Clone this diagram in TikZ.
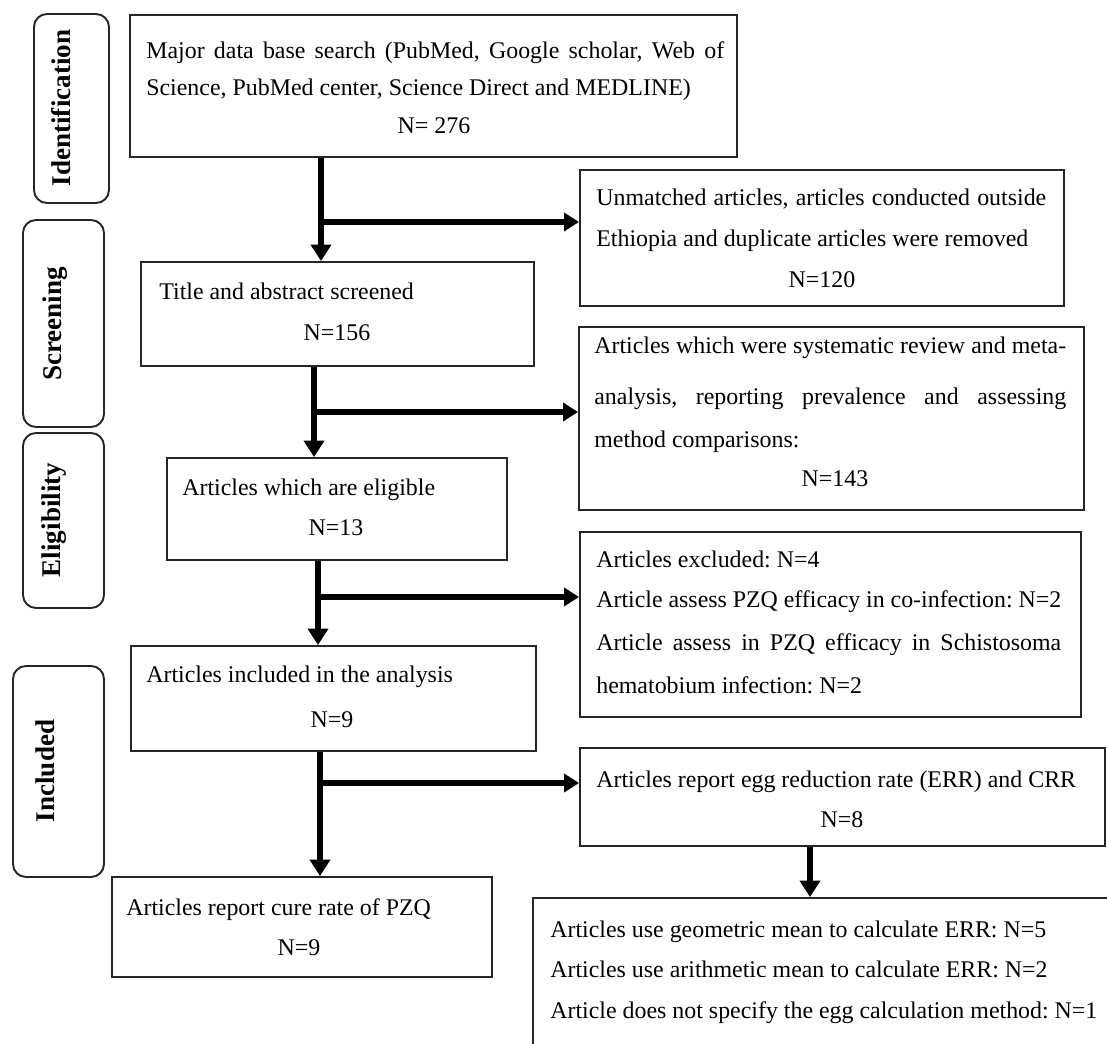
\documentclass[tikz,border=0pt]{standalone}
\usepackage{fontspec}
\setmainfont{Liberation Serif}
\usetikzlibrary{arrows.meta,fit}
\frenchspacing
\begin{document}
\begin{tikzpicture}[x=0.02cm,y=-0.02cm,
  box/.style={draw=black!85, line width=1.1pt, inner sep=0pt},
  lab/.style={draw=black!85, line width=1.1pt, inner sep=0pt, rounded corners=0.26cm},
  txt/.style={anchor=base west, inner sep=0pt, font=\fontsize{13.6}{16}\selectfont},
  ctr/.style={anchor=base, inner sep=0pt, font=\fontsize{13.6}{16}\selectfont},
  side/.style={rotate=90, anchor=base, inner sep=0pt, font=\fontsize{15.4}{18}\selectfont\bfseries},
  arr/.style={line width=3.1pt, -{Triangle[width=0.4cm,length=0.33cm]}},
  harr/.style={line width=2.9pt, -{Triangle[width=0.36cm,length=0.3cm]}}
]
\useasboundingbox (0,0) rectangle (1107,1044);
\clip (0,0) rectangle (1107,1044);

% side labels
\node[lab, fit={(34,14)(109,203)}] (sid) {};
\node[side] (sidt) at (71,108) {Identification};
\node[lab, fit={(23,220)(104,427)}] (scr) {};
\node[side] (scrt) at (61,324) {Screening};
\node[lab, fit={(23,433)(104,608)}] (eli) {};
\node[side] (elit) at (60,520) {Eligibility};
\node[lab, fit={(13,666)(104,877)}] (inc) {};
\node[side] (inct) at (54,771) {Included};

% main boxes
\node[box, fit={(130,15)(737,157)}] (b1) {};
\node[txt] (b1a) at (146,59) {\makebox[11.56cm][s]{Major data base search (PubMed, Google scholar, Web of}};
\node[txt] (b1b) at (146,96) {Science, PubMed center, Science Direct and MEDLINE)};
\node[ctr] (b1c) at (434,134) {N= 276};

\node[box, fit={(580,170)(1064,306)}] (unm) {};
\node[txt] (unma) at (596,206) {\makebox[9.0cm][s]{Unmatched articles, articles conducted outside}};
\node[txt] (unmb) at (596,247) {Ethiopia and duplicate articles were removed};
\node[ctr] (unmc) at (822,288) {N=120};

\node[box, fit={(141,262)(534,366)}] (b2) {};
\node[txt] (b2a) at (159,300) {Title and abstract screened};
\node[ctr] (b2b) at (337,341) {N=156};

\node[box, fit={(579,327)(1084,510)}] (sys) {};
\node[txt] (sysa) at (594,354) {\makebox[9.44cm][s]{Articles which were systematic review and meta-}};
\node[txt] (sysb) at (594,405) {\makebox[9.44cm][s]{analysis, reporting prevalence and assessing}};
\node[txt] (sysc) at (594,448) {method comparisons:};
\node[ctr] (sysd) at (835,487) {N=143};

\node[box, fit={(167,458)(507,560)}] (elig) {};
\node[txt] (eliga) at (182,496) {Articles which are eligible};
\node[ctr] (eligb) at (336,536) {N=13};

\node[box, fit={(580,532)(1081,717)}] (exc) {};
\node[txt] (exca) at (596,568) {Articles excluded: N=4};
\node[txt] (excb) at (596,608) {\makebox[9.3cm][s]{Article assess PZQ efficacy in co-infection: N=2}};
\node[txt] (excc) at (596,650) {\makebox[9.3cm][s]{Article assess in PZQ efficacy in Schistosoma}};
\node[txt] (excd) at (596,693) {hematobium infection: N=2};

\node[box, fit={(131,646)(536,751)}] (incl) {};
\node[txt] (incla) at (146,683) {Articles included in the analysis};
\node[ctr] (inclb) at (332,727) {N=9};

\node[box, fit={(580,748)(1105,846)}] (err) {};
\node[txt] (erra) at (596,787) {Articles report egg reduction rate (ERR) and CRR};
\node[ctr] (errb) at (842,827) {N=8};

\node[box, fit={(112,877)(492,977)}] (cure) {};
\node[txt] (curea) at (126,915) {Articles report cure rate of PZQ};
\node[ctr] (cureb) at (299,955) {N=9};

\node[box, fit={(533,898)(1140,1080)}] (bot) {};
\node[txt] (bota) at (550,937) {Articles use geometric mean to calculate ERR: N=5};
\node[txt] (botb) at (550,977) {Articles use arithmetic mean to calculate ERR: N=2};
\node[txt] (botc) at (550,1018) {Article does not specify the egg calculation method: N=1};

% connectors
\coordinate (j1) at (321,222);
\coordinate (j2) at (314,412);
\coordinate (j3) at (318,597);
\coordinate (j4) at (320,783);
\coordinate (j5) at (810,846);

\draw[arr] (b1.south -| j1) -- (b2.north -| j1);
\draw[harr] (j1) -- (unm.west |- j1);
\draw[arr] (b2.south -| j2) -- (elig.north -| j2);
\draw[harr] (j2) -- (sys.west |- j2);
\draw[arr] (elig.south -| j3) -- (incl.north -| j3);
\draw[harr] (j3) -- (exc.west |- j3);
\draw[arr] (incl.south -| j4) -- (cure.north -| j4);
\draw[harr] (j4) -- (err.west |- j4);
\draw[arr] (err.south -| j5) -- (bot.north -| j5);
\end{tikzpicture}
\end{document}
